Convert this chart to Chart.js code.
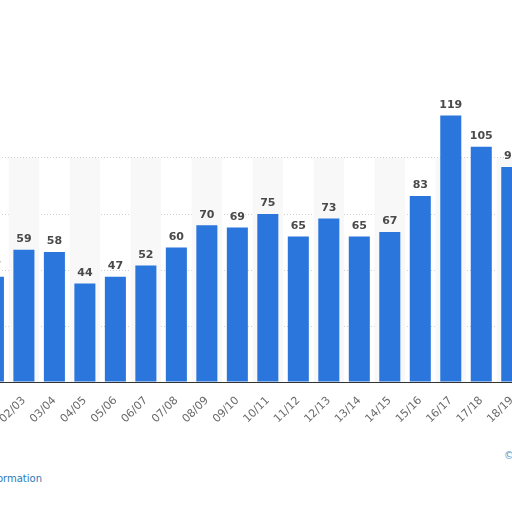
<!DOCTYPE html>
<html>
<head>
<meta charset="utf-8">
<script src="https://cdn.jsdelivr.net/npm/chart.js@4.4.1/dist/chart.umd.min.js"></script>
<style>
  html, body { margin: 0; padding: 0; background: #fff; overflow: hidden; }
  body { width: 512px; height: 512px; position: relative; }
  #wrap { position: absolute; left: -33px; top: 90px; width: 560px; height: 342px; }
  .foot { position: absolute; font-family: "DejaVu Sans", Verdana, sans-serif; font-size: 10px; white-space: nowrap; }
  #info { right: 470px; top: 473px; color: #2a7ab8; }
  #copy { left: 504px; top: 450px; color: #5a8fc0; }
</style>
</head>
<body>
<div id="wrap"><canvas id="myChart"></canvas></div>
<div class="foot" id="info">Additional Information</div>
<div class="foot" id="copy">© Statista 2021</div>
<script>
const seasons = ['01/02', '02/03', '03/04', '04/05', '05/06', '06/07', '07/08', '08/09', '09/10',
  '10/11', '11/12', '12/13', '13/14', '14/15', '15/16', '16/17', '17/18', '18/19'];
const values = [47, 59, 58, 44, 47, 52, 60, 70, 69, 75, 65, 73, 65, 67, 83, 119, 105, 96];
const yTicks = [0, 25, 50, 75, 100, 125];

// light grey background on every other column, below the 100 line
const bands = {
  id: 'bands',
  beforeDatasetsDraw(chart) {
    const { ctx, chartArea, scales } = chart;
    const x = scales.x, y = scales.y;
    const w = chartArea.width / seasons.length;
    const top = y.getPixelForValue(100);
    ctx.save();
    ctx.fillStyle = '#f8f8f8';
    seasons.forEach((s, i) => {
      if (i % 2 === 1) {
        const cx = x.getPixelForValue(i);
        ctx.fillRect(cx - w / 2, top, w, chartArea.bottom - top);
      }
    });
    ctx.restore();
  }
};

// value labels above the bars
const valueLabels = {
  id: 'valueLabels',
  afterDatasetsDraw(chart) {
    const { ctx } = chart;
    const meta = chart.getDatasetMeta(0);
    ctx.save();
    ctx.font = 'bold 11px "DejaVu Sans", Verdana, sans-serif';
    ctx.fillStyle = '#4a4a4a';
    ctx.textAlign = 'center';
    ctx.textBaseline = 'bottom';
    meta.data.forEach((bar, i) => {
      ctx.fillText(values[i], bar.x, bar.y - 5);
    });
    ctx.restore();
  }
};

const ctx = document.getElementById('myChart').getContext('2d');
const myChart = new Chart(ctx, {
  type: 'bar',
  data: {
    labels: seasons,
    datasets: [{
      data: values,
      backgroundColor: '#2a76dc',
      barPercentage: 0.69,
      categoryPercentage: 1
    }]
  },
  options: {
    responsive: true,
    maintainAspectRatio: false,
    animation: false,
    layout: { padding: { top: 12, left: 0, right: 0, bottom: 0 } },
    plugins: {
      legend: { display: false },
      tooltip: { enabled: false }
    },
    scales: {
      x: {
        afterFit: s => { s.height = 50; },
        grid: { display: false },
        border: { display: true, color: '#333', width: 1 },
        ticks: {
          autoSkip: false,
          minRotation: 45,
          maxRotation: 45,
          color: '#6a6a6a',
          padding: 4,
          font: { family: '"DejaVu Sans", Verdana, sans-serif', size: 11 }
        }
      },
      y: {
        min: 0,
        max: 125,
        afterFit: s => { s.width = 0; },
        afterBuildTicks: s => { s.ticks = yTicks.map(v => ({ value: v })); },
        border: { display: false, dash: [1, 2] },
        grid: {
          drawTicks: false,
          color: c => c.tick.value === 100 ? '#d0d0d0' : (c.tick.value === 125 || c.tick.value === 0 ? 'rgba(0,0,0,0)' : '#cfcfcf'),
          lineWidth: 1
        },
        ticks: { display: false }
      }
    }
  },
  plugins: [bands, valueLabels]
});
</script>
</body>
</html>
